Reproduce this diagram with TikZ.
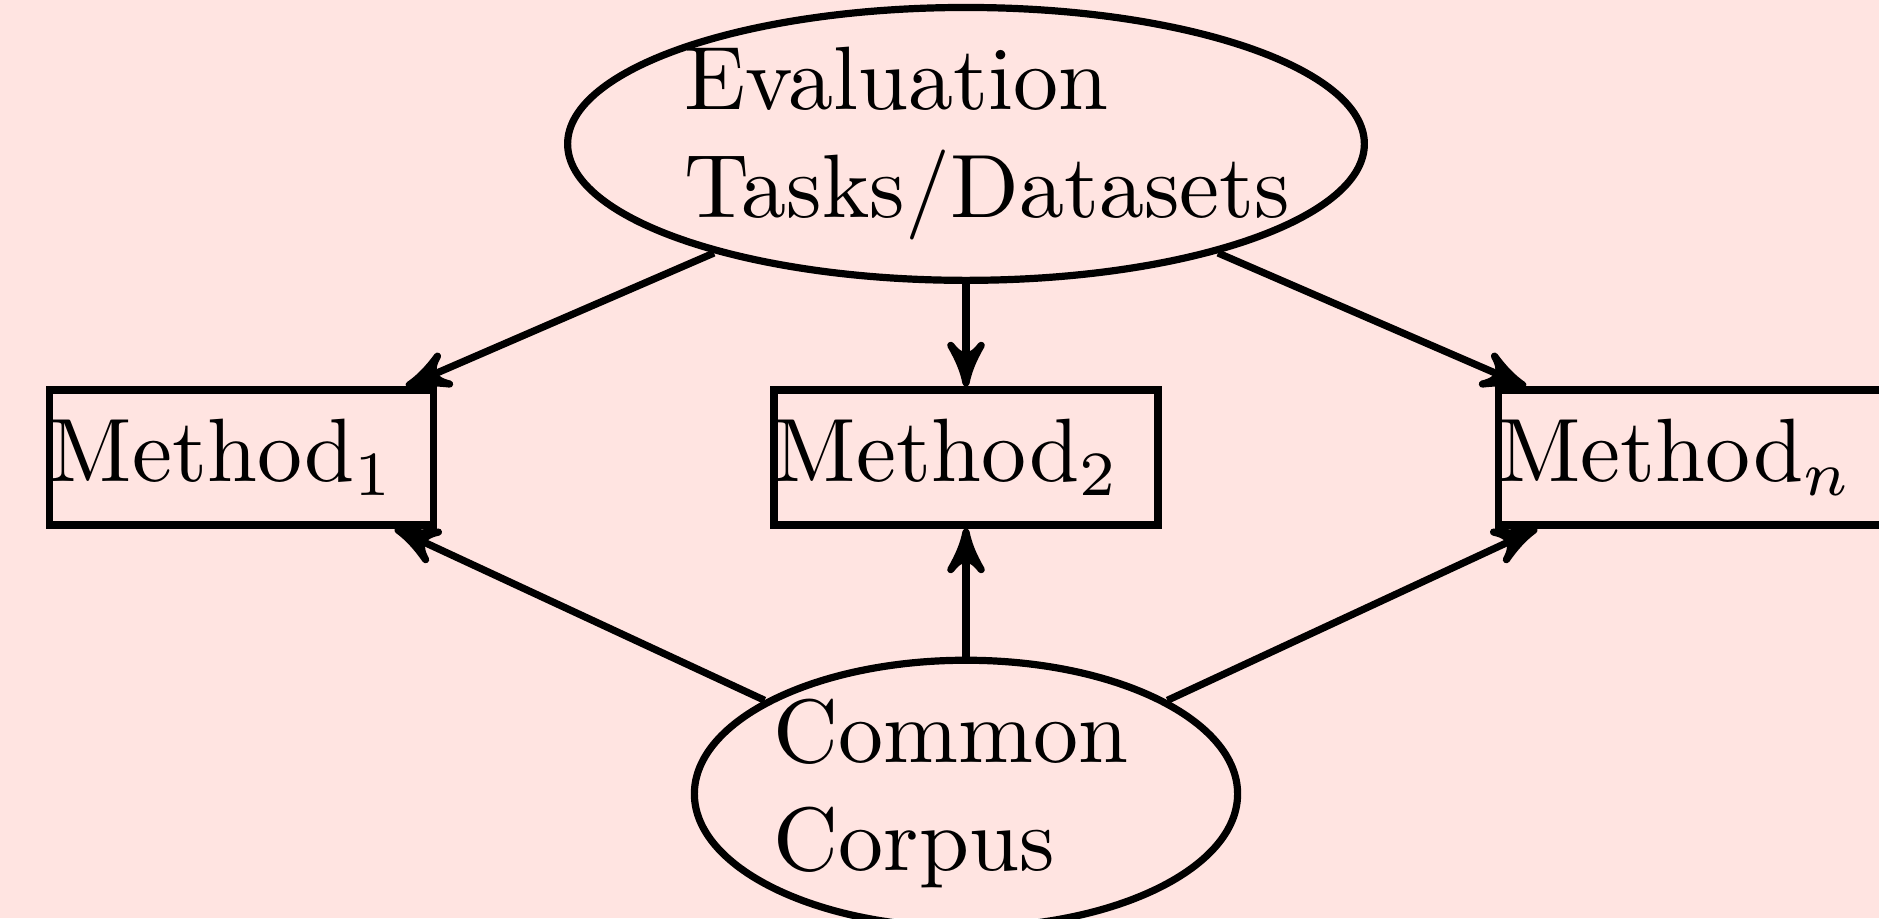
\documentclass[tikz,border=0pt]{standalone}
\usepackage{amsmath}
\usepackage{tikz}
\usetikzlibrary{arrows,positioning,shapes.geometric}
\definecolor{BackPink}{RGB}{255,228,225}
\tikzset{
  >=stealth',
  source/.style={ellipse, draw=black, thick, inner sep=0pt, align=left},
  method/.style={rectangle, draw=black, thick, text width=1.5cm,
    inner sep=0pt, minimum height=1.5em},
  flow/.style={draw, ->, thick}
}
\begin{document}
\begin{tikzpicture}

% background, page size
\fill[BackPink] (-107.33pt,-51.17pt) rectangle (101.44pt,50.83pt);
\useasboundingbox (-107.33pt,-51.17pt) rectangle (101.44pt,50.83pt);

\node[method] (m2) at (0,0) {Method$_2$};
\node[method, left=1.3cm of m2] (m1) {Method$_1$};
\node[method, right=1.3cm of m2] (mn) {Method$_n$};

\node[source, text width=2.2cm, above=0.4cm of m2] (tasks) {Evaluation Tasks/Datasets};
\node[source, text width=1.5cm, below=0.5cm of m2] (corpus) {Common Corpus};

\draw[flow] (tasks)  -- (m1);
\draw[flow] (tasks)  -- (m2);
\draw[flow] (tasks)  -- (mn);
\draw[flow] (corpus) -- (m1);
\draw[flow] (corpus) -- (m2);
\draw[flow] (corpus) -- (mn);

\end{tikzpicture}
\end{document}
